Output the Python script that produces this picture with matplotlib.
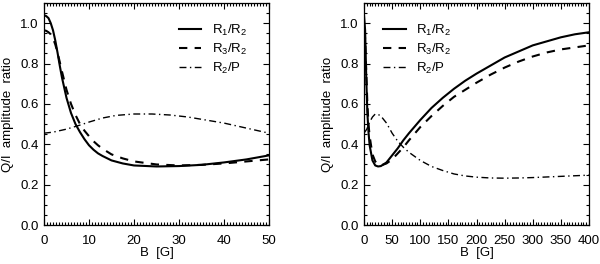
import matplotlib
matplotlib.use("Agg")
import matplotlib.pyplot as plt
from matplotlib.ticker import MultipleLocator, AutoMinorLocator

plt.rcParams["font.family"] = ["Liberation Sans", "DejaVu Sans"]
plt.rcParams["mathtext.fontset"] = "custom"
plt.rcParams["mathtext.rm"] = "Liberation Sans"
plt.rcParams["font.size"] = 9.5

# left panel, B in 0..50 G
b_left = [0, 0.5, 1, 1.5, 2, 2.5, 3, 3.5, 4, 4.5, 5, 6, 7, 8, 9, 10, 11, 12, 13,
          15, 17.5, 20, 25, 30, 35, 40, 45, 50]
r1r2_left = [1.04, 1.035, 1.025, 1.0, 0.965, 0.915, 0.855, 0.79, 0.73, 0.68, 0.63,
             0.555, 0.50, 0.46, 0.425, 0.395, 0.373, 0.355, 0.342, 0.32, 0.305,
             0.295, 0.29, 0.292, 0.298, 0.31, 0.325, 0.345]
r3r2_left = [0.965, 0.962, 0.955, 0.945, 0.925, 0.895, 0.855, 0.808, 0.76, 0.715,
             0.67, 0.60, 0.545, 0.50, 0.467, 0.44, 0.415, 0.395, 0.378, 0.35, 0.33,
             0.315, 0.30, 0.295, 0.298, 0.305, 0.315, 0.325]
b_left_p = [0, 2, 5, 8, 10, 13, 16, 20, 24, 28, 32, 36, 40, 44, 47, 50]
r2p_left = [0.455, 0.46, 0.475, 0.495, 0.51, 0.53, 0.543, 0.55, 0.55, 0.545,
            0.535, 0.52, 0.505, 0.485, 0.47, 0.455]

# right panel, B in 0..400 G
b_right = [0, 2, 4, 6, 8, 10, 15, 20, 25, 30, 40, 50, 60, 70, 80, 100, 120, 140,
           160, 180, 200, 225, 250, 275, 300, 325, 350, 375, 400]
r1r2_right = [1.04, 0.965, 0.73, 0.555, 0.46, 0.395, 0.32, 0.295, 0.29, 0.292, 0.31,
              0.345, 0.38, 0.42, 0.455, 0.52, 0.58, 0.63, 0.675, 0.715, 0.75, 0.79,
              0.83, 0.86, 0.89, 0.91, 0.93, 0.945, 0.955]
r3r2_right = [0.965, 0.925, 0.76, 0.60, 0.50, 0.44, 0.35, 0.315, 0.30, 0.295, 0.305,
              0.325, 0.355, 0.385, 0.42, 0.485, 0.54, 0.59, 0.635, 0.67, 0.705, 0.745,
              0.78, 0.81, 0.835, 0.855, 0.87, 0.88, 0.89]
b_right_p = [0, 5, 10, 15, 20, 25, 30, 40, 50, 60, 70, 80, 100, 120, 140, 160, 180,
             200, 225, 250, 275, 300, 325, 350, 375, 400]
r2p_right = [0.455, 0.475, 0.51, 0.535, 0.55, 0.548, 0.54, 0.505, 0.455, 0.415,
             0.385, 0.36, 0.32, 0.29, 0.27, 0.253, 0.243, 0.237, 0.233, 0.232,
             0.233, 0.235, 0.238, 0.241, 0.244, 0.247]

labels = [r"R$_\mathrm{1}$/R$_\mathrm{2}$", r"R$_\mathrm{3}$/R$_\mathrm{2}$",
          r"R$_\mathrm{2}$/P"]

fig = plt.figure(figsize=(6.0, 2.64), dpi=100)
ax_l = fig.add_axes([44 / 600, 1 - 225 / 264, 225 / 600, 222 / 264])
ax_r = fig.add_axes([364 / 600, 1 - 225 / 264, 225 / 600, 222 / 264])


def style_axis(ax, xmax, xmajor, xminor_n):
    ax.set_xlim(0, xmax)
    ax.set_ylim(0, 1.1)
    ax.xaxis.set_major_locator(MultipleLocator(xmajor))
    ax.xaxis.set_minor_locator(AutoMinorLocator(xminor_n))
    ax.yaxis.set_major_locator(MultipleLocator(0.2))
    ax.yaxis.set_minor_locator(AutoMinorLocator(4))
    ax.yaxis.set_major_formatter(lambda v, pos: f"{v:.1f}")
    ax.tick_params(which="both", direction="in", top=True, right=True, width=0.8)
    ax.tick_params(which="major", length=4, labelsize=9.5)
    ax.tick_params(axis="x", which="major", pad=7)
    ax.tick_params(axis="y", which="major", pad=4)
    ax.tick_params(which="minor", length=2)
    for spine in ax.spines.values():
        spine.set_linewidth(0.9)
    ax.set_xlabel("B  [G]", labelpad=0)
    ax.set_ylabel("Q/I  amplitude  ratio", labelpad=4)


def draw(ax, b, r1, r3, bp, rp):
    ax.plot(b, r1, color="black", lw=1.5, ls="-", label=labels[0])
    ax.plot(b, r3, color="black", lw=1.5, ls=(0, (4, 3.5)), label=labels[1])
    ax.plot(bp, rp, color="black", lw=1.0, ls=(0, (5, 2.5, 1, 2.5)), label=labels[2])


draw(ax_l, b_left, r1r2_left, r3r2_left, b_left_p, r2p_left)
draw(ax_r, b_right, r1r2_right, r3r2_right, b_right_p, r2p_right)
style_axis(ax_l, 50, 10, 15)
style_axis(ax_r, 400, 50, 10)

for ax, x0 in ((ax_l, 0.60), (ax_r, 0.085)):
    ax.legend(loc="upper left", bbox_to_anchor=(x0, 0.91), frameon=False,
              handlelength=1.7, handletextpad=0.8, labelspacing=0.3,
              borderpad=0, borderaxespad=0, fontsize=9.5)

fig.savefig("out.png", dpi=100)
